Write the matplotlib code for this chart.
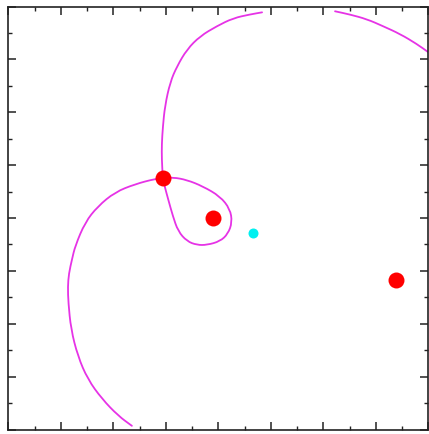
import matplotlib
matplotlib.use("Agg")
import matplotlib.pyplot as plt
from matplotlib.path import Path
from matplotlib.patches import PathPatch
from matplotlib.ticker import MultipleLocator

# Trajectory of the test particle: first arc (enters from below, loops around
# the inner body, exits at the top)
arc1_x = [-1.65, -1.91, -2.22, -2.49, -2.68, -2.81, -2.86, -2.87, -2.85, -2.79,
          -2.73, -2.54, -2.30, -1.97, -1.59, -1.21, -1.06, -0.87, -0.60, -0.30,
          0.03, 0.22, 0.26, 0.18, 0.03, -0.22, -0.41, -0.60, -0.77, -0.87,
          -0.96, -1.02, -1.06, -1.08, -1.08, -1.06, -1.02, -0.92, -0.79, -0.60,
          -0.35, -0.03, 0.28, 0.60, 0.83]
arc1_y = [-3.93, -3.74, -3.42, -3.05, -2.61, -2.10, -1.60, -1.30, -1.05, -0.78,
          -0.53, -0.08, 0.22, 0.49, 0.64, 0.74, 0.75, 0.77, 0.72, 0.60,
          0.41, 0.17, -0.08, -0.30, -0.44, -0.51, -0.51, -0.44, -0.25, 0.04,
          0.36, 0.58, 0.75, 1.11, 1.40, 1.72, 2.12, 2.57, 2.87, 3.19,
          3.44, 3.63, 3.78, 3.85, 3.89]

# Second arc, re-entering at the top and leaving through the right edge
arc2_x = [2.22, 2.50, 2.83, 3.13, 3.46, 3.78, 3.99, 4.22]
arc2_y = [3.91, 3.85, 3.76, 3.63, 3.48, 3.29, 3.14, 2.98]

# Massive bodies (red) and the centre of mass (cyan)
bodies_x = [-1.06, -0.10, 3.38]
bodies_y = [0.75, 0.00, -1.17]
com_x = [0.66]
com_y = [-0.29]


def smooth_path(xs, ys):
    """Quadratic Bezier path using the samples as control points."""
    pts = list(zip(xs, ys))
    verts = [pts[0]]
    codes = [Path.MOVETO]
    mid = lambda a, b: ((a[0] + b[0]) / 2, (a[1] + b[1]) / 2)
    verts.append(mid(pts[0], pts[1]))
    codes.append(Path.LINETO)
    for i in range(1, len(pts) - 1):
        verts += [pts[i], mid(pts[i], pts[i + 1])]
        codes += [Path.CURVE3, Path.CURVE3]
    verts.append(pts[-1])
    codes.append(Path.LINETO)
    return Path(verts, codes)


fig = plt.figure(figsize=(4.29, 4.35), dpi=100)
ax = fig.add_axes([0.0198, 0.0103, 0.979, 0.9724])

traj_color = "#e633e6"
for xs, ys in [(arc1_x, arc1_y), (arc2_x, arc2_y)]:
    ax.add_patch(PathPatch(smooth_path(xs, ys), facecolor="none",
                           edgecolor=traj_color, lw=1.3, capstyle="round",
                           zorder=2))

ax.plot(bodies_x, bodies_y, "o", color="#ff0000", ms=11.5, mec="none", zorder=3)
ax.plot(com_x, com_y, "o", color="#00f0f0", ms=7.2, mec="none", zorder=3)

ax.set_xlim(-4, 4)
ax.set_ylim(-4, 4)
ax.xaxis.set_major_locator(MultipleLocator(1))
ax.xaxis.set_minor_locator(MultipleLocator(0.5))
ax.yaxis.set_major_locator(MultipleLocator(1))
ax.yaxis.set_minor_locator(MultipleLocator(0.5))
ax.tick_params(which="both", direction="in", top=True, right=True,
               labelbottom=False, labelleft=False, color="#222222")
ax.tick_params(which="major", length=6, width=1.1)
ax.tick_params(which="minor", length=3, width=1.0)
for s in ax.spines.values():
    s.set_linewidth(1.2)
    s.set_color("#222222")

fig.savefig("out.png", dpi=100)
